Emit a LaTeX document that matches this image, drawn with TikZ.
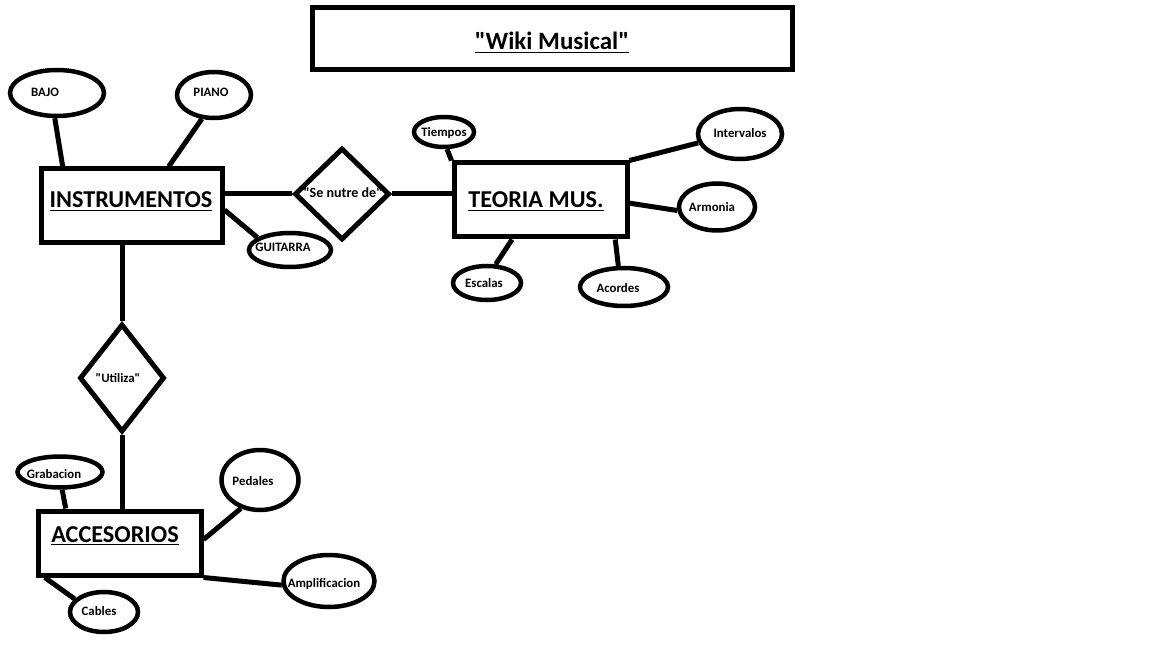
\documentclass[tikz,border=0pt]{standalone}
\usepackage{fontspec}
\setmainfont{Carlito}[Ligatures=TeXOff]
\usetikzlibrary{shapes.geometric,calc}
\newdimen\pu \pu=0.02cm
\newcommand\sq{\symbol{34}}
\tikzset{
  ent/.style={draw, rectangle, line width=5\pu, inner sep=0pt},
  rel/.style={draw, diamond, line width=5\pu, inner sep=0pt},
  att/.style={draw, ellipse, line width=4.5\pu, inner sep=0pt},
  lbl/.style={font=\bfseries\fontsize{7.3}{9}\selectfont, inner sep=0pt, anchor=base},
  big/.style={font=\bfseries\fontsize{13.8}{16}\selectfont, inner sep=0pt, anchor=base},
  ttl/.style={font=\fontsize{14.2}{17}\selectfont\bfseries, inner sep=0pt, anchor=base},
  conn/.style={line width=5\pu},
}
\begin{document}
\begin{tikzpicture}[x=0.02cm, y=-0.02cm]
\useasboundingbox (0,0) rectangle (1152,648);
% title
\node[ent, minimum width=480\pu, minimum height=62\pu] (title) at (552,39) {};
\node[ttl] (ttitle) at (552,50) {\underline{\sq Wiki Musical\sq}};
% entities
\node[ent, minimum width=181\pu, minimum height=74\pu] (inst) at (131.5,206) {};
\node[big] (tinst) at (131,208) {\underline{INSTRUMENTOS}};
\node[ent, minimum width=173\pu, minimum height=74\pu] (teo) at (540.5,200) {};
\node[big] (tteo) at (536,208) {\underline{TEORIA MUS.}};
\node[ent, minimum width=163\pu, minimum height=64\pu] (acc) at (119.5,543) {};
\node[big] (tacc) at (115,542) {\underline{ACCESORIOS}};
% relationships
\node[rel, minimum width=95\pu, minimum height=92\pu] (nutre) at (342,194) {};
\node[lbl, font=\bfseries\fontsize{8}{9}\selectfont] (tnutre) at (343,198) {\sq Se nutre de\sq};
\node[rel, minimum width=85\pu, minimum height=108\pu] (util) at (122,378) {};
\node[lbl] (tutil) at (118,382) {\sq Utiliza\sq};
% attributes
\node[att, minimum width=94\pu, minimum height=46\pu] (bajo) at (57,93) {};
\node[lbl] (tbajo) at (45,97) {BAJO};
\node[att, minimum width=74\pu, minimum height=46\pu] (piano) at (214,95) {};
\node[lbl] (tpiano) at (211,97) {PIANO};
\node[att, minimum width=82\pu, minimum height=34\pu] (guit) at (290,250) {};
\node[lbl] (tguit) at (283,252) {GUITARRA};
\node[att, minimum width=60\pu, minimum height=30\pu] (tiem) at (444,132) {};
\node[lbl] (ttiem) at (444,137) {Tiempos};
\node[att, minimum width=84\pu, minimum height=50\pu] (inter) at (740,134) {};
\node[lbl] (tinter) at (740,138) {Intervalos};
\node[att, minimum width=76\pu, minimum height=47\pu] (armo) at (717,207) {};
\node[lbl] (tarmo) at (712,212) {Armonia};
\node[att, minimum width=68\pu, minimum height=34\pu] (esca) at (487,283) {};
\node[lbl] (tesca) at (484,288) {Escalas};
\node[att, minimum width=88\pu, minimum height=38\pu] (acor) at (624,287) {};
\node[lbl] (tacor) at (618,293) {Acordes};
\node[att, minimum width=85\pu, minimum height=31\pu] (grab) at (60,472) {};
\node[lbl] (tgrab) at (54,478) {Grabacion};
\node[att, minimum width=77\pu, minimum height=60\pu] (peda) at (260,480) {};
\node[lbl] (tpeda) at (253,485) {Pedales};
\node[att, minimum width=91\pu, minimum height=52\pu] (ampl) at (329,581) {};
\node[lbl] (tampl) at (324,587) {Amplificacion};
\node[att, minimum width=68\pu, minimum height=40\pu] (cabl) at (104,612) {};
\node[lbl] (tcabl) at (99,615) {Cables};
% connectors
\draw[conn] (bajo.-95) -- ($(inst.north west)!0.13!(inst.north east)$);
\draw[conn] (piano.-117) -- ($(inst.north west)!0.70!(inst.north east)$);
\draw[conn] (guit.159) -- ($(inst.north east)!0.55!(inst.south east)$);
\draw[conn] (nutre.west) -- (nutre.west -| inst.east);
\draw[conn] (nutre.east) -- (nutre.east -| teo.west);
\draw[conn] (tiem.-80) -- (teo.north west);
\draw[conn] (inter.-168) -- (teo.north east);
\draw[conn] (armo.-175) -- ($(teo.north east)!0.54!(teo.south east)$);
\draw[conn] (esca.65) -- ($(teo.south west)!0.34!(teo.south east)$);
\draw[conn] (acor.105) -- ($(teo.south west)!0.92!(teo.south east)$);
\draw[conn] (util.north) -- (util.north |- inst.south);
\draw[conn] (util.south) -- (util.south |- acc.north);
\draw[conn] (grab.-83) -- ($(acc.north west)!0.18!(acc.north east)$);
\draw[conn] (peda.-124) -- ($(acc.north east)!0.45!(acc.south east)$);
\draw[conn] (ampl.-175) -- (acc.south east);
\draw[conn] (cabl.156) -- ($(acc.south west)!0.055!(acc.south east)$);
\end{tikzpicture}
\end{document}
